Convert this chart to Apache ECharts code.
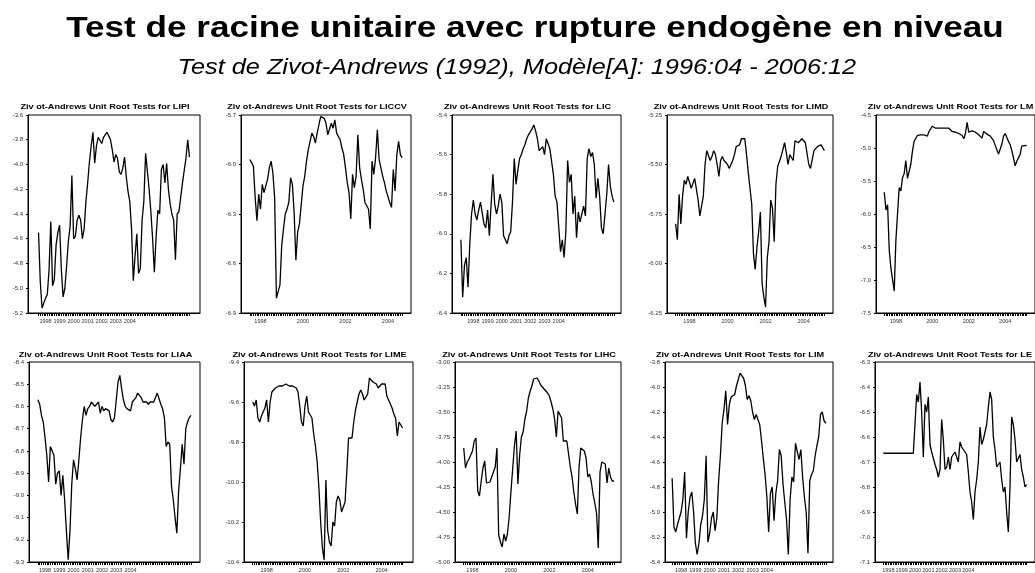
<!DOCTYPE html>
<html>
<head>
<meta charset="utf-8">
<script src="https://cdn.jsdelivr.net/npm/echarts@6/dist/echarts.min.js"></script>
<style>
  html, body { margin: 0; padding: 0; background: #fff; }
  #chart { width: 1035px; height: 573px; }
</style>
</head>
<body>
<div id="chart"></div>
<script>
// year labels on the x axes
var yearsAnnual = ['1998', '1999', '2000', '2001', '2002', '2003', '2004'];
var yearsBiennial = ['1998', '2000', '2002', '2004'];

// Zivot-Andrews t statistics, one value per month
var lipi = [-4.55,-4.95,-5.16,-5.12,-5.08,-5.05,-4.85,-4.46,-4.98,-4.93,
  -4.65,-4.55,-4.49,-4.85,-5.07,-5.0,-4.82,-4.62,-4.5,-4.09,
  -4.6,-4.58,-4.45,-4.41,-4.45,-4.6,-4.52,-4.3,-4.15,-3.98,
  -3.85,-3.74,-3.99,-3.85,-3.78,-3.77,-3.83,-3.78,-3.79,-3.74,
  -3.75,-3.8,-3.88,-3.98,-3.92,-3.95,-4.06,-4.08,-4.03,-3.94,
  -4.1,-4.22,-4.3,-4.52,-4.94,-4.74,-4.56,-4.88,-4.84,-4.45,
  -4.3,-3.91,-4.05,-4.2,-4.38,-4.6,-4.87,-4.58,-4.37,-4.4,
  -4.04,-4.0,-4.15,-3.99,-4.2,-4.32,-4.4,-4.45,-4.77,-4.4,
  -4.38,-4.39,-4.15,-4.05,-3.95,-3.8,-3.94];

var liccv = [-5.97,-5.99,-6.01,-6.2,-6.34,-6.18,-6.27,-6.12,-6.17,-6.13,
  -6.09,-6.02,-5.98,-6.05,-6.2,-6.81,-6.8,-6.73,-6.49,-6.39,
  -6.3,-6.27,-6.23,-6.08,-6.12,-6.29,-6.58,-6.41,-6.36,-6.35,
  -6.13,-6.07,-5.98,-5.91,-5.91,-5.81,-5.83,-5.87,-5.81,-5.76,
  -5.71,-5.70,-5.72,-5.75,-5.82,-5.82,-5.75,-5.78,-5.73,-5.81,
  -5.8,-5.85,-5.9,-5.94,-6.02,-6.11,-6.17,-6.33,-6.06,-6.14,
  -6.07,-5.82,-6.02,-6.09,-6.15,-6.23,-6.25,-6.27,-6.39,-5.98,
  -6.06,-5.96,-5.79,-5.97,-6.02,-6.07,-6.11,-6.16,-6.16,-6.23,
  -6.26,-6.03,-6.16,-5.94,-5.86,-5.94,-5.96];

var lic = [-6.03,-6.32,-6.16,-6.12,-6.27,-6.05,-5.9,-5.83,-5.9,-5.93,
  -5.88,-5.84,-5.83,-5.95,-5.97,-5.88,-6.01,-5.85,-5.7,-5.85,
  -5.9,-5.86,-5.8,-5.84,-6.01,-6.03,-6.05,-6.01,-5.99,-5.84,
  -5.62,-5.75,-5.68,-5.62,-5.6,-5.57,-5.55,-5.52,-5.5,-5.51,
  -5.47,-5.45,-5.48,-5.52,-5.58,-5.57,-5.56,-5.6,-5.52,-5.53,
  -5.57,-5.58,-5.7,-5.81,-5.84,-5.83,-6.09,-6.03,-6.12,-5.99,
  -5.63,-5.74,-5.7,-5.9,-5.81,-6.02,-5.89,-5.94,-5.94,-5.86,
  -5.91,-5.62,-5.57,-5.61,-5.59,-5.65,-5.82,-5.72,-5.81,-5.97,
  -6.0,-6.0,-5.8,-5.65,-5.76,-5.81,-5.84];

var limd = [-5.80,-5.88,-5.65,-5.80,-5.66,-5.58,-5.6,-5.56,-5.55,-5.62,
  -5.61,-5.57,-5.58,-5.68,-5.76,-5.76,-5.66,-5.5,-5.43,-5.44,
  -5.48,-5.46,-5.43,-5.45,-5.5,-5.56,-5.48,-5.46,-5.48,-5.47,
  -5.5,-5.52,-5.51,-5.48,-5.45,-5.41,-5.4,-5.4,-5.37,-5.37,
  -5.37,-5.45,-5.54,-5.62,-5.7,-5.95,-6.03,-5.92,-5.84,-5.74,
  -6.1,-6.17,-6.22,-5.97,-5.89,-5.68,-5.72,-5.89,-5.6,-5.51,
  -5.52,-5.46,-5.45,-5.39,-5.44,-5.5,-5.45,-5.44,-5.48,-5.38,
  -5.39,-5.39,-5.38,-5.37,-5.38,-5.39,-5.4,-5.5,-5.52,-5.52,
  -5.43,-5.42,-5.41,-5.4,-5.4,-5.41,-5.43];

var lm = [-5.67,-5.94,-5.86,-6.55,-6.82,-6.85,-7.17,-6.4,-6.0,-5.6,
  -5.65,-5.45,-5.39,-5.19,-5.46,-5.43,-5.25,-5.05,-4.9,-4.93,
  -4.81,-4.78,-4.8,-4.79,-4.8,-4.77,-4.82,-4.75,-4.74,-4.67,
  -4.67,-4.7,-4.7,-4.7,-4.71,-4.7,-4.69,-4.7,-4.69,-4.7,
  -4.73,-4.75,-4.77,-4.76,-4.76,-4.78,-4.76,-4.81,-4.86,-4.78,
  -4.61,-4.76,-4.74,-4.74,-4.73,-4.76,-4.78,-4.8,-4.81,-4.85,
  -4.75,-4.72,-4.79,-4.8,-4.82,-4.85,-4.89,-4.96,-5.03,-5.09,
  -5.06,-4.94,-4.82,-4.78,-4.8,-4.9,-4.95,-5.04,-5.15,-5.27,
  -5.2,-5.22,-5.1,-4.97,-4.95,-4.96,-4.97];

var liaa = [-8.57,-8.59,-8.64,-8.67,-8.74,-8.82,-8.94,-8.78,-8.8,-8.82,
  -8.95,-8.9,-8.89,-9.0,-8.91,-9.02,-9.16,-9.29,-9.16,-8.95,
  -8.84,-8.88,-8.93,-8.84,-8.74,-8.66,-8.6,-8.64,-8.61,-8.6,
  -8.58,-8.58,-8.6,-8.6,-8.58,-8.63,-8.6,-8.62,-8.61,-8.61,
  -8.62,-8.66,-8.67,-8.65,-8.57,-8.49,-8.46,-8.52,-8.57,-8.6,
  -8.61,-8.61,-8.62,-8.58,-8.58,-8.56,-8.54,-8.55,-8.56,-8.58,
  -8.58,-8.58,-8.59,-8.58,-8.58,-8.58,-8.58,-8.54,-8.54,-8.59,
  -8.61,-8.65,-8.78,-8.76,-8.77,-8.96,-9.02,-9.1,-9.17,-8.98,
  -8.88,-8.77,-8.86,-8.7,-8.67,-8.65,-8.64];

var lime = [-9.6,-9.62,-9.59,-9.68,-9.7,-9.67,-9.65,-9.63,-9.59,-9.7,
  -9.6,-9.55,-9.54,-9.53,-9.54,-9.52,-9.52,-9.52,-9.52,-9.51,
  -9.52,-9.52,-9.51,-9.52,-9.52,-9.53,-9.55,-9.62,-9.7,-9.72,
  -9.62,-9.57,-9.65,-9.66,-9.68,-9.76,-9.82,-9.9,-10.03,-10.2,
  -10.33,-10.39,-9.99,-10.24,-10.3,-10.32,-10.2,-10.22,-10.1,-10.07,
  -10.09,-10.15,-10.16,-10.1,-9.95,-9.78,-9.79,-9.78,-9.7,-9.64,
  -9.6,-9.56,-9.54,-9.56,-9.59,-9.6,-9.56,-9.48,-9.49,-9.5,
  -9.5,-9.51,-9.53,-9.52,-9.51,-9.5,-9.51,-9.57,-9.59,-9.59,
  -9.63,-9.66,-9.68,-9.77,-9.7,-9.71,-9.73];

var lihc = [-3.86,-4.06,-4.0,-3.97,-3.93,-3.89,-3.79,-3.76,-4.29,-4.34,
  -4.19,-4.06,-3.99,-4.21,-4.2,-4.2,-4.15,-4.17,-4.05,-3.86,
  -4.73,-4.8,-4.85,-4.72,-4.79,-4.72,-4.55,-4.3,-4.07,-3.84,
  -3.69,-4.22,-3.93,-3.75,-3.7,-3.57,-3.49,-3.36,-3.29,-3.24,
  -3.17,-3.16,-3.16,-3.19,-3.23,-3.25,-3.27,-3.29,-3.31,-3.34,
  -3.4,-3.47,-3.57,-3.75,-3.49,-3.48,-3.56,-3.79,-3.78,-3.79,
  -3.8,-4.05,-4.15,-4.3,-4.42,-4.52,-4.05,-3.86,-3.87,-3.89,
  -3.96,-4.15,-4.12,-4.2,-4.32,-4.41,-4.51,-4.86,-4.1,-4.0,
  -4.01,-4.02,-4.21,-4.06,-4.15,-4.19,-4.19];

var lim = [-4.73,-5.12,-5.16,-5.1,-5.05,-5.0,-4.9,-4.68,-5.21,-5.0,
  -4.88,-4.84,-5.0,-5.25,-5.34,-5.25,-5.1,-5.03,-4.9,-4.55,
  -5.24,-5.17,-5.05,-5.0,-5.15,-5.05,-4.75,-4.55,-4.29,-4.18,
  -4.03,-4.3,-4.14,-4.08,-4.07,-4.06,-3.99,-3.94,-3.89,-3.89,
  -3.93,-3.99,-4.1,-4.07,-4.11,-4.2,-4.26,-4.22,-4.22,-4.3,
  -4.43,-4.57,-4.7,-4.88,-5.16,-4.85,-4.8,-5.07,-4.85,-4.75,
  -4.5,-4.55,-4.77,-4.92,-5.06,-5.34,-4.9,-4.72,-4.76,-4.45,
  -4.44,-4.58,-4.5,-4.72,-4.88,-5.0,-5.33,-4.75,-4.7,-4.67,
  -4.55,-4.47,-4.4,-4.22,-4.2,-4.27,-4.29];

var le = [-6.665,-6.665,-6.665,-6.665,-6.665,-6.665,-6.665,-6.665,-6.665,-6.665,
  -6.665,-6.665,-6.665,-6.665,-6.665,-6.665,-6.665,-6.665,-6.665,-6.665,
  -6.43,-6.46,-6.38,-6.5,-6.68,-6.47,-6.5,-6.44,-6.63,-6.66,
  -6.66,-6.71,-6.73,-6.76,-6.73,-6.53,-6.61,-6.73,-6.72,-6.68,
  -6.73,-6.68,-6.67,-6.66,-6.66,-6.7,-6.62,-6.64,-6.65,-6.66,
  -6.67,-6.74,-6.82,-6.86,-6.93,-6.82,-6.77,-6.7,-6.56,-6.63,
  -6.61,-6.58,-6.55,-6.48,-6.42,-6.45,-6.6,-6.65,-6.72,-6.71,
  -6.7,-6.77,-6.82,-6.8,-6.9,-6.98,-6.8,-6.52,-6.55,-6.61,
  -6.7,-6.7,-6.67,-6.73,-6.76,-6.8,-6.79];

// panel layout: plot box [left, top, width, height], empty months before/after data,
// where the year labels fall (months from the first point, step in months)
var panels = [
  { name: 'LIPI',  data: lipi,  y: [-5.2, -3.6, 0.2, 1],    years: yearsAnnual,   lab0: 4, step: 8,  box: [28, 115, 172, 198],  padL: 6, padR: 6 },
  { name: 'LICCV', data: liccv, y: [-6.9, -5.7, 0.3, 1],    years: yearsBiennial, lab0: 6, step: 24, box: [241, 115, 170, 198], padL: 5, padR: 5 },
  { name: 'LIC',   data: lic,   y: [-6.4, -5.4, 0.2, 1],    years: yearsAnnual,   lab0: 7, step: 8,  box: [452, 115, 169, 198], padL: 5, padR: 4 },
  { name: 'LIMD',  data: limd,  y: [-6.25, -5.25, 0.25, 2], years: yearsBiennial, lab0: 8, step: 22, box: [667, 115, 166, 198], padL: 5, padR: 5 },
  { name: 'LM',    data: lm,    y: [-7.5, -4.5, 0.5, 1],    years: yearsBiennial, lab0: 7, step: 22, box: [876, 115, 167, 198], padL: 5, padR: 5 },
  { name: 'LIAA',  data: liaa,  y: [-9.3, -8.4, 0.1, 1],    years: yearsAnnual,   lab0: 4, step: 8,  box: [29, 362, 171, 200],  padL: 5, padR: 5 },
  { name: 'LIME',  data: lime,  y: [-10.4, -9.4, 0.2, 1],   years: yearsBiennial, lab0: 8, step: 22, box: [244, 362, 169, 200], padL: 5, padR: 6 },
  { name: 'LIHC',  data: lihc,  y: [-5.0, -3.0, 0.25, 2],   years: yearsBiennial, lab0: 5, step: 22, box: [455, 362, 166, 200], padL: 5, padR: 4 },
  { name: 'LIM',   data: lim,   y: [-5.4, -3.8, 0.2, 1],    years: yearsAnnual,   lab0: 5, step: 8,  box: [665, 362, 168, 200], padL: 4, padR: 4 },
  { name: 'LE',    data: le,    y: [-7.1, -6.3, 0.1, 1],    years: yearsAnnual,   lab0: 3, step: 8,  box: [875, 362, 168, 200], padL: 5, padR: 5 }
];

var FONT = '"Liberation Sans", Arial, Helvetica, sans-serif';
var chart = echarts.init(document.getElementById('chart'), null, { renderer: 'canvas' });

var grids = [], xAxes = [], yAxes = [], series = [], texts = [];

// the original picture is a little stretched sideways, so the texts are too
texts.push({
  type: 'text', x: 535, y: 29, scaleX: 1.17,
  style: { text: 'Test de racine unitaire avec rupture endogène en niveau', fill: '#000',
    font: 'bold 30px ' + FONT, textAlign: 'center', textVerticalAlign: 'middle' }
});
texts.push({
  type: 'text', x: 517, y: 68, scaleX: 1.15,
  style: { text: 'Test de Zivot-Andrews (1992), Modèle[A]: 1996:04 - 2006:12', fill: '#000',
    font: 'italic 22px ' + FONT, textAlign: 'center', textVerticalAlign: 'middle' }
});

panels.forEach(function (p, i) {
  var n = p.data.length;
  var total = p.padL + n + p.padR;
  var cats = [];
  for (var k = 0; k < total; k++) cats.push(k);
  var lead = [], trail = [];
  for (var a = 0; a < p.padL; a++) lead.push('-');
  for (var b = 0; b < p.padR; b++) trail.push('-');
  var values = lead.concat(p.data, trail);

  var labelAt = {};
  p.years.forEach(function (yr, j) {
    labelAt[p.padL + p.lab0 + j * p.step] = yr;
  });

  grids.push({
    left: p.box[0], top: p.box[1], width: p.box[2], height: p.box[3],
    show: true, borderColor: '#000', borderWidth: 1, containLabel: false
  });

  xAxes.push({
    type: 'category', gridIndex: i, data: cats, boundaryGap: false,
    axisLine: { show: true, lineStyle: { color: '#000', width: 1 } },
    axisTick: {
      show: true, length: 3, lineStyle: { color: '#000', width: 1 },
      interval: function (idx) { return idx >= p.padL && idx < p.padL + n; }
    },
    axisLabel: {
      show: true, fontSize: 5.5, color: '#333', fontFamily: FONT, margin: 5,
      hideOverlap: false,
      interval: function (idx) { return labelAt[idx] !== undefined; },
      formatter: function (v, idx) { return labelAt[idx] || ''; }
    },
    splitLine: { show: false }
  });

  yAxes.push({
    type: 'value', gridIndex: i, min: p.y[0], max: p.y[1], interval: p.y[2],
    axisLine: { show: true, lineStyle: { color: '#000', width: 1 } },
    axisTick: { show: true, length: 2, lineStyle: { color: '#000' } },
    axisLabel: {
      fontSize: 6, color: '#333', fontFamily: FONT, margin: 5,
      formatter: function (v) { return v.toFixed(p.y[3]); }
    },
    splitLine: { show: false }
  });

  series.push({
    type: 'line', xAxisIndex: i, yAxisIndex: i, data: values,
    symbol: 'none', connectNulls: false,
    lineStyle: { color: '#000', width: 1.3 },
    silent: true
  });

  texts.push({
    type: 'text', x: p.box[0] + p.box[2] / 2 - 9, y: i < 5 ? 107 : 355, scaleX: 1.14,
    style: { text: 'Ziv ot-Andrews Unit Root Tests for ' + p.name, fill: '#000',
      font: 'bold 8px ' + FONT, textAlign: 'center', textVerticalAlign: 'middle' }
  });
});

chart.setOption({
  backgroundColor: '#FFFFFF',
  animation: false,
  grid: grids,
  xAxis: xAxes,
  yAxis: yAxes,
  series: series,
  graphic: texts
});
</script>
</body>
</html>
